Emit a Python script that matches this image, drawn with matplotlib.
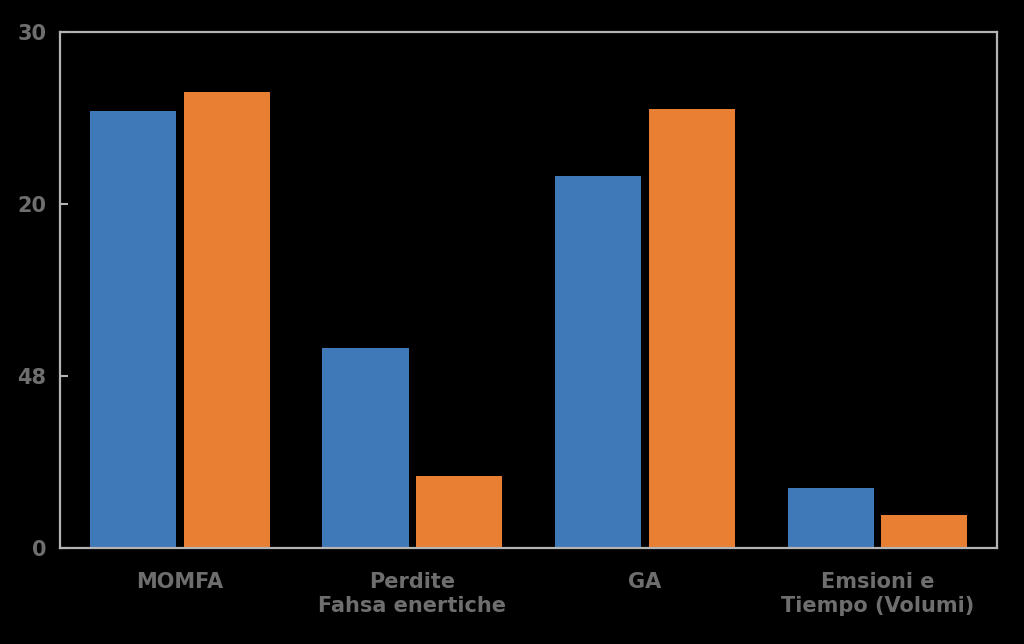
import matplotlib
matplotlib.use("Agg")
import matplotlib.pyplot as plt
import numpy as np

# data
categories = ["MOMFA", "Perdite\nFahsa enertiche", "GA", "Emsioni e\nTiempo (Volumi)"]
serie_blu = [25.4, 11.6, 21.6, 3.5]
serie_arancio = [26.5, 4.2, 25.5, 1.9]
yticks = [0, 10, 20, 30]
ytick_labels = ["0", "48", "20", "30"]

blu = "#4079b8"
arancio = "#e97f33"
grigio = "#6e6e6e"

fig = plt.figure(figsize=(10.24, 6.44), dpi=100, facecolor="black")
ax = fig.add_axes([60 / 1024, 1 - 548 / 644, 937 / 1024, 516 / 644])
ax.set_facecolor("black")

x = np.arange(len(categories))
w = 0.37
ax.bar(x - 0.202, serie_blu, width=w, color=blu)
ax.bar(x + 0.202, serie_arancio, width=w, color=arancio)

ax.set_xlim(-0.516, 3.514)
ax.set_ylim(0, 30)

for s in ax.spines.values():
    s.set_color("#b4b4b4")
    s.set_linewidth(1.6)

ax.set_yticks(yticks)
ax.set_yticklabels(ytick_labels, color=grigio, fontsize=15, fontweight="bold")
ax.tick_params(axis="y", direction="in", length=6, width=1.5, color="#b4b4b4", pad=10)

ax.set_xticks(x)
ax.set_xticklabels(categories, color=grigio, fontsize=15, fontweight="bold", linespacing=1.3)
ax.tick_params(axis="x", length=0, pad=17)

fig.savefig("out.png", dpi=100, facecolor="black")
